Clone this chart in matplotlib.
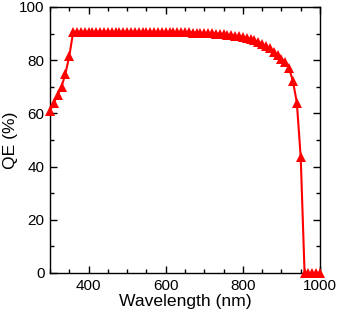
import matplotlib
matplotlib.use("Agg")
import matplotlib.pyplot as plt
from matplotlib.ticker import MultipleLocator

plt.rcParams['font.family'] = ['Liberation Sans', 'DejaVu Sans']

wavelength = list(range(300, 1001, 10))
qe = [61.0, 64.0, 67.0, 70.0, 75.0, 81.5,
      90.6, 90.7, 90.7, 90.7, 90.7, 90.7, 90.7, 90.7, 90.7, 90.7,   # 360-450
      90.7, 90.7, 90.7, 90.7, 90.7, 90.7, 90.7, 90.7, 90.7, 90.7,   # 460-550
      90.7, 90.6, 90.6, 90.6, 90.6, 90.6, 90.6, 90.5, 90.5, 90.5,   # 560-650
      90.5, 90.4, 90.4, 90.3, 90.3, 90.2, 90.1, 90.0, 89.9, 89.8,   # 660-750
      89.6, 89.4, 89.2, 89.0, 88.7, 88.4, 88.0, 87.5, 86.9, 86.2,   # 760-850
      85.4, 84.4, 83.2, 81.8, 80.3, 79.5, 77.0, 72.0, 64.0, 43.5,   # 860-950
      0.0, 0.0, 0.0, 0.0, 0.0]                                       # 960-1000

fig = plt.figure(figsize=(3.37, 3.17), dpi=100)
ax = fig.add_axes([50/337, 44/317, 270/337, 266/317])
ax.plot(wavelength, qe, color='#ff0000', lw=1.5, marker='^', ms=6.5,
        markeredgewidth=0, clip_on=False, zorder=3)

ax.set_xlim(300, 1000)
ax.set_ylim(0, 100)
ax.xaxis.set_major_locator(MultipleLocator(200))
ax.xaxis.set_minor_locator(MultipleLocator(50))
ax.yaxis.set_major_locator(MultipleLocator(20))
ax.yaxis.set_minor_locator(MultipleLocator(10))
ax.tick_params(which='both', direction='in', top=True, right=True,
               labelsize=11, width=1, colors='black', pad=4)
ax.tick_params(which='major', length=5)
ax.tick_params(which='minor', length=3)
for s in ax.spines.values():
    s.set_linewidth(1)
ax.set_xlabel('Wavelength (nm)', fontsize=12.6, labelpad=1)
ax.set_ylabel('QE (%)', fontsize=12.6, labelpad=1)

fig.savefig('out.png', dpi=100)
